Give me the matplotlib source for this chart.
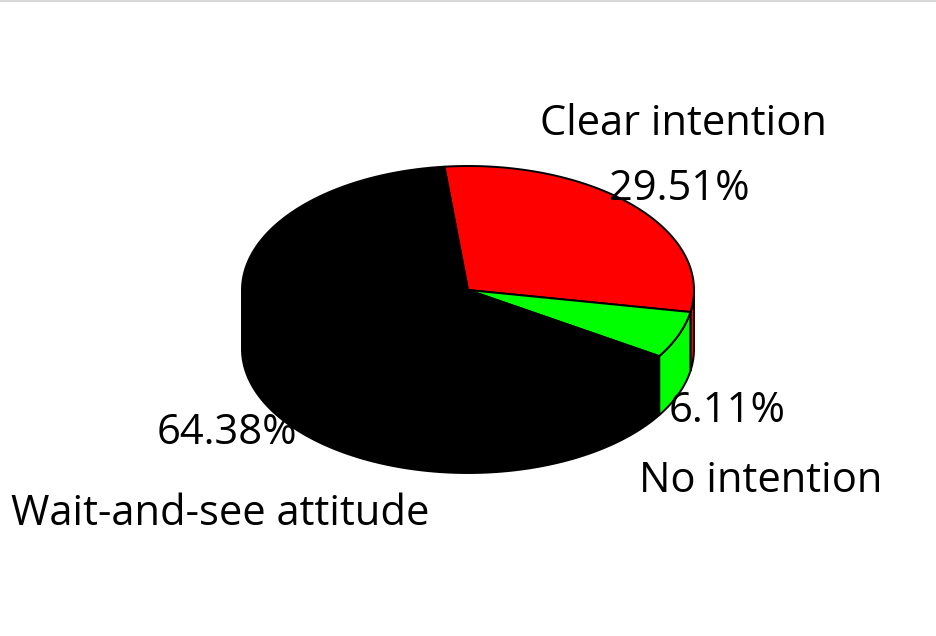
import numpy as np
import matplotlib
matplotlib.use("Agg")
import matplotlib.pyplot as plt
from matplotlib.patches import Polygon

categories = ["Clear intention", "No intention", "Wait-and-see attitude"]
values = [29.51, 6.11, 64.38]
pct_labels = ["29.51%", "6.11%", "64.38%"]
colors = ["#ff0000", "#00ff00", "#000000"]

W, H = 936, 636
fig = plt.figure(figsize=(W / 100, H / 100), dpi=100)
ax = fig.add_axes([0, 0, 1, 1])
ax.set_xlim(0, W)
ax.set_ylim(H, 0)
ax.axis("off")

# faint top border line
ax.plot([0, W], [1, 1], color="#d8d8d8", lw=1.5)

cx, cyt, rx, ry, depth = 468, 290, 226, 124, 59
cyb = cyt + depth
start = 96.0


def arc(a, b, yc, n=200):
    t = np.radians(np.linspace(a, b, n))
    return np.column_stack([cx + rx * np.cos(t), yc - ry * np.sin(t)])


fr = np.array(values) / sum(values) * 360.0
ranges = []
cur = start
for f in fr:
    ranges.append((cur - f, cur))
    cur -= f

# side walls (front half: angles in [-180, 0])
for (a, b), c in zip(ranges, colors):
    for shift in (0, -360, 360):
        lo = max(a + shift, -180)
        hi = min(b + shift, 0)
        if hi > lo:
            top = arc(lo, hi, cyt)
            bot = arc(hi, lo, cyb)
            ax.add_patch(Polygon(np.vstack([top, bot]), closed=True, fc=c,
                                 ec="black", lw=1.4, joinstyle="round", zorder=2))

# top wedges
for (a, b), c in zip(ranges, colors):
    pts = np.vstack([[cx, cyt], arc(a, b, cyt)])
    ax.add_patch(Polygon(pts, closed=True, fc=c, ec="black", lw=1.4,
                         joinstyle="round", zorder=3))

font = "Open Sans"
fs = 30
txt = dict(fontsize=fs, family=font, ha="center", va="baseline", color="black", zorder=5)
ax.text(683, 135, categories[0], **txt)
ax.text(679, 200, pct_labels[0], **txt)
ax.text(727, 422, pct_labels[1], **txt)
ax.text(761, 492, categories[1], **txt)
ax.text(227, 444, pct_labels[2], **txt)
ax.text(220, 525, categories[2], **txt)

fig.savefig("out.png", dpi=100)
